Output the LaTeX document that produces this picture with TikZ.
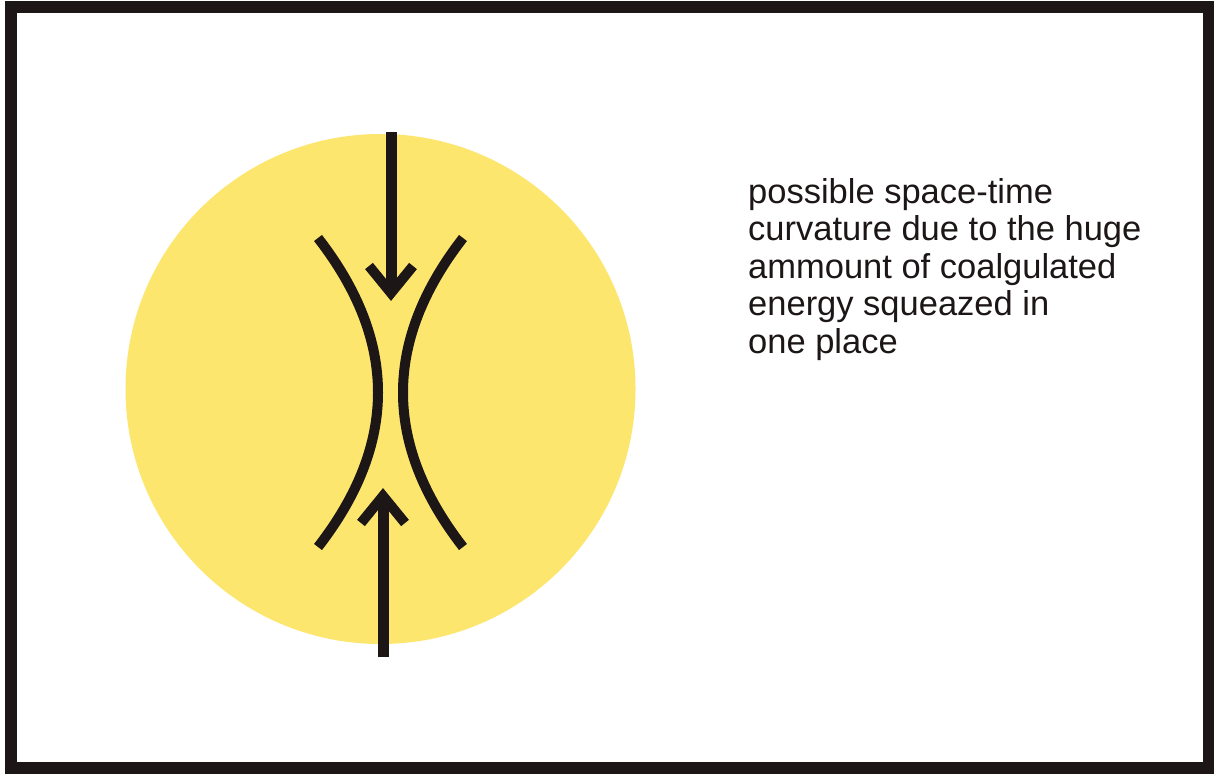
\documentclass[tikz,border=0pt]{standalone}
\usepackage{fontspec}
\setmainfont{Liberation Sans}
\definecolor{sunyellow}{RGB}{252,230,110}
\definecolor{inkblack}{RGB}{28,22,22}
\begin{document}
\begin{tikzpicture}[x=1pt,y=-1pt,
  frame/.style={draw=inkblack,line width=12pt},
  curveline/.style={draw=inkblack,line width=10pt},
  shaft/.style={draw=inkblack,line width=11pt},
  chevron/.style={draw=inkblack,line width=10pt,miter limit=10}]
\useasboundingbox (0,0) rectangle (1214,773);
\fill[white] (0,0) rectangle (1214,773);
\draw[frame] (11,7) rectangle (1209,768);
\fill[sunyellow] (380.5,389) circle[radius=255];
% curves
\draw[curveline] (318,238) .. controls (398,341) and (398,444) .. (318,547);
\draw[curveline] (463,238) .. controls (383,341) and (383,444) .. (463,547);
% top arrow
\coordinate (ttop) at (391,132);
\coordinate (ttip) at (391,293);
\draw[shaft] (ttop) -- (ttip);
\draw[chevron] (369,266) -- (391,293) -- (413,266);
% bottom arrow
\coordinate (bbot) at (383,657);
\coordinate (btip) at (383,496);
\draw[shaft] (bbot) -- (btip);
\draw[chevron] (361,523) -- (383,496) -- (405,523);
\node[anchor=north west,align=left,inner sep=0pt,font=\fontsize{34.5}{37.5}\selectfont,text=inkblack] (label) at (748,178)
{possible space-time\\curvature due to the huge\\ammount of coalgulated\\energy squeazed in\\one place};
\end{tikzpicture}
\end{document}
